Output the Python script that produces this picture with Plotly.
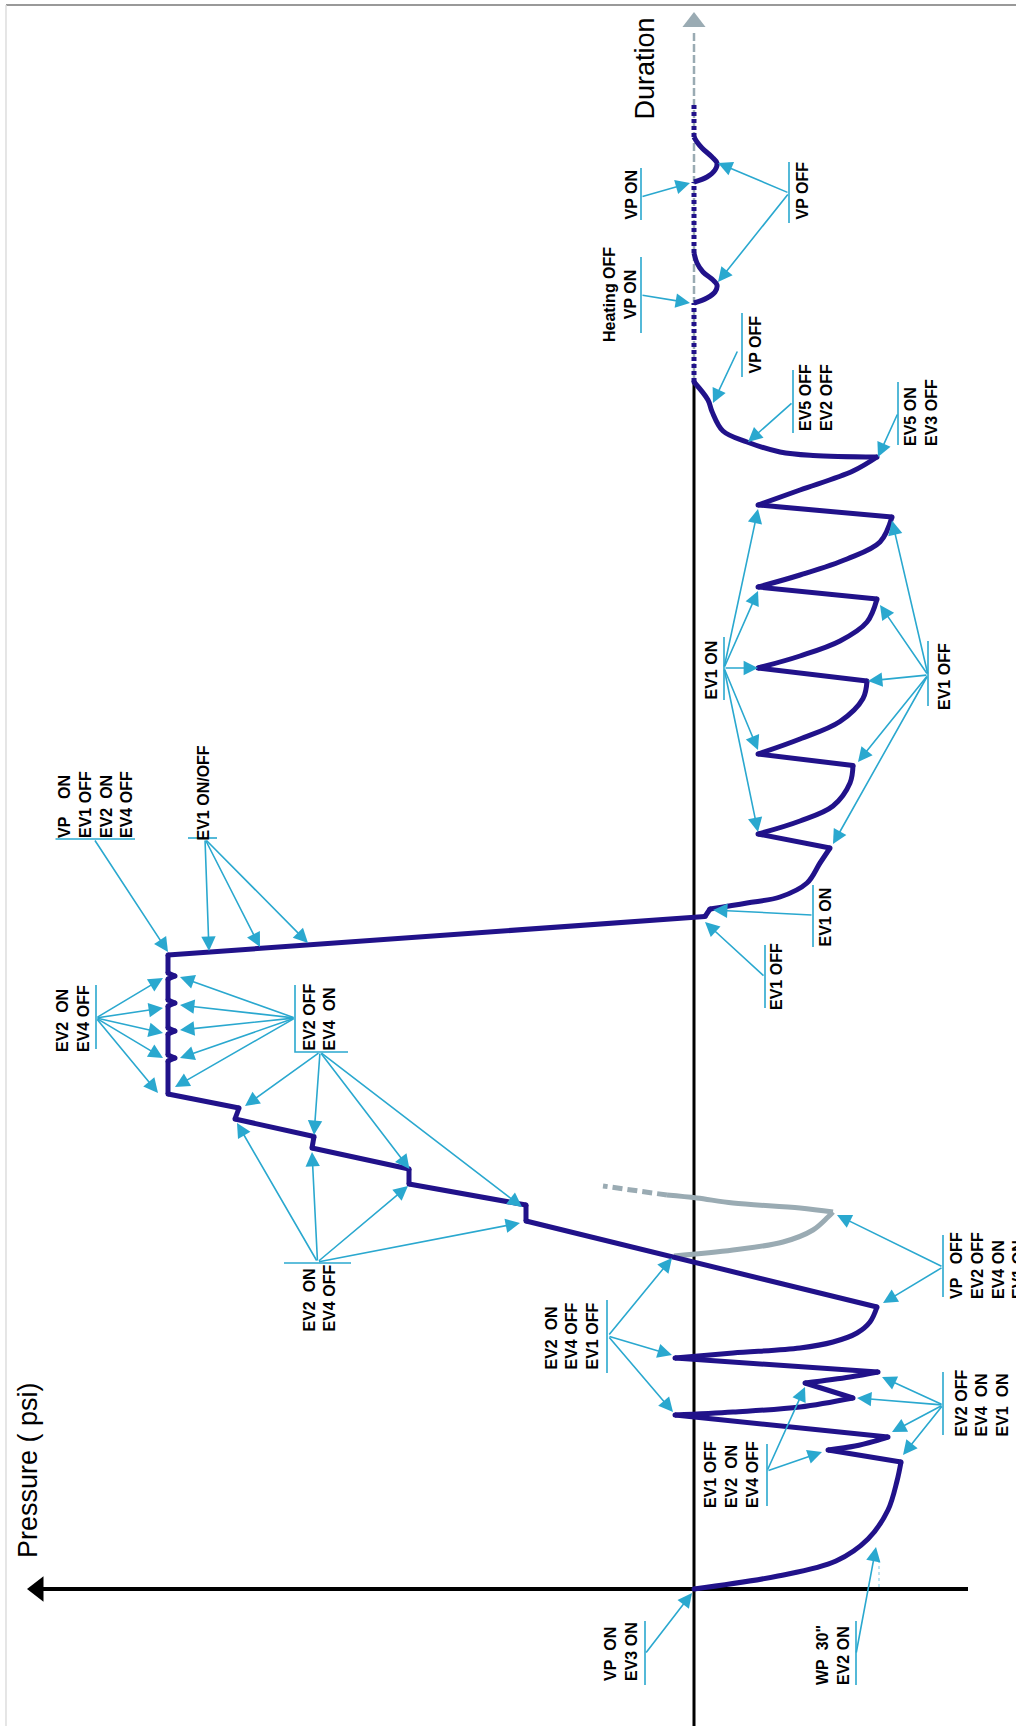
import plotly.graph_objects as go

# ---------------- data (pressure p: + to the left, time t: + upward) ----------------
main_p = [0, -8.4, -14.2, -17.4, -19.4, -20.3, -20.7,
          -13.4, -16.1, -18.1, -19.4,
          1.9, -3.9, -10.6, -15.9,
          -11.1, -15.6, -18.4,
          1.9, -3.9, -10.6, -13.9, -16.3, -17.6, -18.3,
          16.8, 16.8, 28.5, 28.5, 38.2, 38.0, 45.9, 45.5, 52.6,
          52.6, 51.9, 52.6, 52.6, 51.9, 52.6, 52.6, 51.9, 52.6, 52.6, 51.9, 52.6, 52.6,
          -1.1, -1.6, -5.3, -8.6, -11.3, -12.6, -13.6,
          -6.4, -10.6, -13.9, -15.6, -15.9,
          -6.4, -10.6, -14.6, -16.9, -17.3,
          -6.4, -10.6, -14.6, -17.3, -18.3,
          -6.4, -10.6, -15.3, -18.6, -19.8,
          -6.4, -10.6, -15.9, -18.3,
          -11.9, -8.6, -5.3, -2.9, -1.8, -1.4, 0]
main_t = [0, 1.3, 2.8, 5.0, 7.9, 10.8, 12.7,
          13.9, 14.3, 14.8, 15.2,
          17.4, 17.7, 18.2, 19.1,
          20.6, 21.2, 21.7,
          23.1, 23.6, 24.1, 24.7, 25.6, 26.7, 28.2,
          36.8, 38.4, 40.5, 42.0, 44.1, 45.25, 47.0, 48.1, 49.5,
          52.8, 53.1, 53.4, 55.5, 55.8, 56.1, 58.3, 58.6, 58.9, 61.0, 61.3, 61.6, 63.4,
          67.25, 68.0, 68.6, 69.2, 70.6, 72.6, 74.1,
          75.5, 76.8, 78.3, 80.6, 82.35,
          83.5, 85.0, 86.75, 89.05, 90.8,
          92.1, 93.3, 94.8, 96.7, 99.0,
          100.2, 101.4, 103.0, 104.7, 107.2,
          108.4, 109.9, 111.8, 113.2,
          113.35, 113.7, 114.7, 115.8, 117.75, 118.9, 120.7]
main_knot = [1, 0, 0, 0, 0, 0, 1,
             1, 0, 0, 1,
             1, 0, 0, 1,
             1, 0, 1,
             1, 0, 0, 0, 0, 0, 1,
             1, 1, 1, 1, 1, 1, 1, 1, 1,
             1, 1, 1, 1, 1, 1, 1, 1, 1, 1, 1, 1, 1,
             1, 1, 0, 0, 0, 0, 1,
             1, 0, 0, 0, 1,
             1, 0, 0, 0, 1,
             1, 0, 0, 0, 1,
             1, 0, 0, 0, 1,
             1, 0, 0, 1,
             0, 0, 0, 0, 0, 0, 1]

# heating phase: dotted waits and two pump cycles
bump1_p = [0, -1.3, -2.1, -2.3, -1.9, -0.9, -0.3, 0]
bump1_t = [128.6, 129.1, 129.7, 130.4, 130.9, 131.7, 132.6, 133.6]
bump2_p = [0, -1.3, -2.1, -2.3, -1.8, -0.8, -0.3, 0]
bump2_t = [140.7, 141.2, 141.9, 142.6, 143.2, 144.1, 144.7, 145.2]
dotted_t = [[120.7, 128.6], [133.6, 140.7], [145.2, 148.4]]

# grey alternative curve
grey_up_p = [2.0, -3.9, -8.9, -11.9, -13.4, -13.9]
grey_up_t = [33.3, 33.9, 34.7, 35.9, 37.2, 37.7]
grey_back_p = [-13.9, -10.6, -3.9, -0.3, 2.7]
grey_back_t = [37.7, 38.1, 38.6, 39.1, 39.4]
grey_dash_p = [2.7, 9.1]
grey_dash_t = [39.4, 40.3]

# axes extents
p_min, p_max = -32.2, 69.4
t_min, t_max = -13.7, 158.9
time_axis_end = 120.7
time_arrow_t = 155.6
press_axis_right = -27.4
press_arrow_p = 65.2

# callouts
callout_text = [
    "VP\u00a0\u00a0ON<br>EV3 ON",
    "WP\u00a0\u00a030\"<br>EV2 ON",
    "EV1 OFF<br>EV2\u00a0\u00a0ON<br>EV4 OFF",
    "EV2\u00a0\u00a0ON<br>EV4 OFF<br>EV1 OFF",
    "VP\u00a0\u00a0\u00a0OFF<br>EV2 OFF<br>EV4 ON<br>EV1 ON",
    "EV2 OFF<br>EV4\u00a0\u00a0ON<br>EV1\u00a0\u00a0ON",
    "EV2\u00a0\u00a0ON<br>EV4 OFF",
    "EV2 OFF<br>EV4\u00a0\u00a0ON",
    "EV2\u00a0\u00a0ON<br>EV4 OFF",
    "VP\u00a0\u00a0\u00a0\u00a0ON<br>EV1 OFF<br>EV2\u00a0\u00a0ON<br>EV4 OFF",
    "EV1 ON/OFF",
    "EV1 OFF",
    "EV1 ON",
    "EV1 ON",
    "EV1 OFF",
    "EV5 ON<br>EV3 OFF",
    "EV5 OFF<br>EV2 OFF",
    "VP OFF",
    "Heating OFF<br>VP ON",
    "VP ON",
    "VP OFF",
]
callout_p = [7.3, -13.9, -3.7, 12.25, -29.3, -28.75, 37.5, 37.45, 62.15, 59.9, 49.1,
             -8.2, -13.1, -1.65, -25.05, -22.65, -12.15, -6.05, 7.4, 6.35, -10.75]
callout_t = [-6.3, -6.6, 11.4, 25.3, 32.3, 18.6, 29.05, 57.2, 57.05, 78.4, 79.55,
             61.2, 67.15, 91.9, 91.25, 117.65, 119.15, 124.4, 129.4, 139.4, 139.8]
callout_align = ["left"] * 18 + ["center", "left", "left"]

bar_p = [[4.9, 4.9], [-16.2, -16.2], [-7.3, -7.3], [8.7, 8.7], [-24.9, -24.9], [-24.9, -24.9],
         [41.0, 34.3], [39.9, 39.9, 34.6], [59.8, 59.8], [63.85, 55.9], [50.6, 47.7],
         [-7.1, -7.1], [-11.9, -11.9], [-3.0, -3.0], [-23.4, -23.4], [-20.4, -20.4],
         [-9.9, -9.9], [-4.8, -4.8], [5.3, 5.3], [5.3, 5.3], [-9.5, -9.5]]
bar_t = [[-3.2, -9.6], [-3.2, -9.6], [14.5, 8.3], [28.9, 21.6], [35.4, 29.2], [21.7, 15.4],
         [32.6, 32.6], [60.4, 53.7, 53.7], [60.4, 54.0], [75.0, 75.0], [75.1, 75.1],
         [64.4, 58.1], [70.4, 64.2], [95.2, 88.9], [94.8, 88.3], [120.7, 114.4],
         [121.9, 115.6], [127.6, 121.2], [133.2, 125.6], [142.1, 136.9], [142.7, 136.6]]

arrow_src = [(4.9, -6.5), (-16.2, -6.5), (-7.3, 11.8), (8.6, 25.3), (-24.9, 32.2), (-24.9, 18.4),
             (37.65, 32.7), (39.9, 57.1), (37.4, 53.7), (59.8, 57.1), (60.0, 75.0), (48.9, 75.0),
             (-7.1, 61.2), (-11.9, 67.4), (-3.0, 92.1), (-23.4, 91.4), (-20.4, 117.6),
             (-9.9, 118.7), (-4.4, 123.9), (5.3, 129.4), (5.3, 139.2), (-9.5, 139.6)]
arrow_dst = [
    [(0.2, -0.4)],
    [(-18.2, 4.2)],
    [(-12.8, 13.7), (-11.1, 20.2)],
    [(2.2, 33.1), (2.2, 23.4), (2.1, 17.7)],
    [(-14.3, 37.4), (-18.9, 28.6)],
    [(-18.8, 21.2), (-16.3, 19.1), (-19.8, 15.7), (-20.9, 13.4)],
    [(45.7, 46.6), (38.2, 43.7), (28.6, 40.3), (17.4, 36.6)],
    [(51.4, 61.2), (51.4, 58.4), (51.4, 55.9), (51.4, 53.1), (51.9, 50.2)],
    [(44.9, 48.3), (38.0, 45.4), (28.45, 42.0), (17.2, 38.2)],
    [(53.1, 61.1), (53.1, 58.1), (53.1, 55.6), (53.1, 53.1), (53.6, 49.6)],
    [(52.6, 63.7)],
    [(48.5, 63.8), (43.4, 64.2), (38.6, 64.6)],
    [(-1.1, 66.7)],
    [(-1.9, 67.9)],
    [(-6.4, 108.0), (-6.4, 99.8), (-6.4, 92.1), (-6.4, 83.9), (-6.4, 75.7)],
    [(-19.8, 106.85), (-18.6, 98.4), (-17.4, 90.8), (-16.4, 82.7), (-13.9, 74.5)],
    [(-18.4, 113.2)],
    [(-5.4, 114.7)],
    [(-1.9, 118.6)],
    [(0.4, 128.6)],
    [(0.4, 140.6)],
    [(-2.4, 142.6), (-2.4, 130.7)],
]
guide_p = [-18.5, -18.5]
guide_t = [2.9, 0.2]

# ---------------- styles ----------------
NAVY = "#21128A"
CYAN = "#2AA8CF"
GREY = "#9AABB3"
LABEL_FONT = "Liberation Sans Narrow, Arial Narrow, Liberation Sans, Arial, sans-serif"
TITLE_FONT = "Liberation Sans, Arial, sans-serif"

fig = go.Figure()

# time axis (black solid part, grey dashed continuation)
fig.add_trace(go.Scatter(x=[0, 0], y=[t_min, time_axis_end], mode="lines",
                         line=dict(color="black", width=3), hoverinfo="skip", showlegend=False))
fig.add_trace(go.Scatter(x=[0, 0], y=[time_axis_end, time_arrow_t], mode="lines",
                         line=dict(color=GREY, width=2.5, dash="8px,3px"), hoverinfo="skip", showlegend=False))
fig.add_trace(go.Scatter(x=[0], y=[time_arrow_t + 1.1], mode="markers",
                         marker=dict(symbol="triangle-up", size=20, color=GREY), hoverinfo="skip", showlegend=False))
# pressure axis
fig.add_trace(go.Scatter(x=[press_arrow_p, press_axis_right], y=[0, 0], mode="lines",
                         line=dict(color="black", width=4), hoverinfo="skip", showlegend=False))
fig.add_trace(go.Scatter(x=[press_arrow_p + 0.4], y=[0], mode="markers",
                         marker=dict(symbol="triangle-left", size=22, color="black"), hoverinfo="skip", showlegend=False))

# grey curve
fig.add_trace(go.Scatter(x=grey_up_p, y=grey_up_t, mode="lines",
                         line=dict(color=GREY, width=5, shape="spline"), hoverinfo="skip", showlegend=False))
fig.add_trace(go.Scatter(x=grey_back_p, y=grey_back_t, mode="lines",
                         line=dict(color=GREY, width=5, shape="spline"), hoverinfo="skip", showlegend=False))
fig.add_trace(go.Scatter(x=grey_dash_p, y=grey_dash_t, mode="lines",
                         line=dict(color=GREY, width=5, dash="10px,5px"), hoverinfo="skip", showlegend=False))

# main curve: spline runs between sharp knots
knots = [i for i, k in enumerate(main_knot) if k]
for a, b in zip(knots[:-1], knots[1:]):
    fig.add_trace(go.Scatter(x=main_p[a:b + 1], y=main_t[a:b + 1], mode="lines",
                             line=dict(color=NAVY, width=5, shape="spline" if b - a > 1 else "linear",
                                       smoothing=1.0),
                             hoverinfo="skip", showlegend=False))
fig.add_trace(go.Scatter(x=[main_p[i] for i in knots], y=[main_t[i] for i in knots], mode="markers",
                         marker=dict(size=5, color=NAVY, line=dict(width=0)), hoverinfo="skip", showlegend=False))

# heating phase
for seg in dotted_t:
    fig.add_trace(go.Scatter(x=[0, 0], y=seg, mode="lines",
                             line=dict(color=NAVY, width=5, dash="4px,3px"), hoverinfo="skip", showlegend=False))
for bp, bt in ((bump1_p, bump1_t), (bump2_p, bump2_t)):
    fig.add_trace(go.Scatter(x=bp, y=bt, mode="lines",
                             line=dict(color=NAVY, width=5, shape="spline"), hoverinfo="skip", showlegend=False))

# callout bars
bx, by = [], []
for ps, ts in zip(bar_p, bar_t):
    bx += ps + [None]
    by += ts + [None]
fig.add_trace(go.Scatter(x=bx, y=by, mode="lines", line=dict(color=CYAN, width=1.6),
                         hoverinfo="skip", showlegend=False))
fig.add_trace(go.Scatter(x=guide_p, y=guide_t, mode="lines", line=dict(color="#8FD3E8", width=1.2, dash="dot"),
                         hoverinfo="skip", showlegend=False))

# arrows
for (sp, st), dsts in zip(arrow_src, arrow_dst):
    for dp, dt in dsts:
        fig.add_annotation(x=dp, y=dt, ax=sp, ay=st, xref="x", yref="y", axref="x", ayref="y",
                           text="", showarrow=True, arrowhead=2, arrowsize=1.8, arrowwidth=1.6,
                           arrowcolor=CYAN, standoff=0)

# labels
for txt, p, t, al in zip(callout_text, callout_p, callout_t, callout_align):
    fig.add_annotation(x=p, y=t, xref="x", yref="y", text=txt, showarrow=False, textangle=-90,
                       align=al, xanchor="center", yanchor="middle",
                       font=dict(family=LABEL_FONT, size=16, color="black", weight="bold"))

# axis titles
fig.add_annotation(x=66.6, y=11.9, xref="x", yref="y", text="Pressure ( psi)", showarrow=False,
                   textangle=-90, font=dict(family=TITLE_FONT, size=27, color="black"))
fig.add_annotation(x=5.0, y=152.05, xref="x", yref="y", text="Duration", showarrow=False,
                   textangle=-90, font=dict(family=TITLE_FONT, size=27, color="black"))

# frame
fig.add_shape(type="line", xref="paper", yref="paper", x0=0.0059, x1=1, y0=0.9971, y1=0.9971,
              line=dict(color="#777777", width=1.5))
fig.add_shape(type="line", xref="paper", yref="paper", x0=0.0059, x1=0.0059, y0=0, y1=0.9971,
              line=dict(color="#DDDDDD", width=1.5))

fig.update_layout(
    width=1016, height=1726, margin=dict(l=0, r=0, t=0, b=0),
    paper_bgcolor="white", plot_bgcolor="white", showlegend=False,
    xaxis=dict(range=[p_max, p_min], visible=False, fixedrange=True),
    yaxis=dict(range=[t_min, t_max], visible=False, fixedrange=True),
)

fig.write_html("out.html", config={"displayModeBar": False},
               post_script="document.body.style.margin='0px';")
